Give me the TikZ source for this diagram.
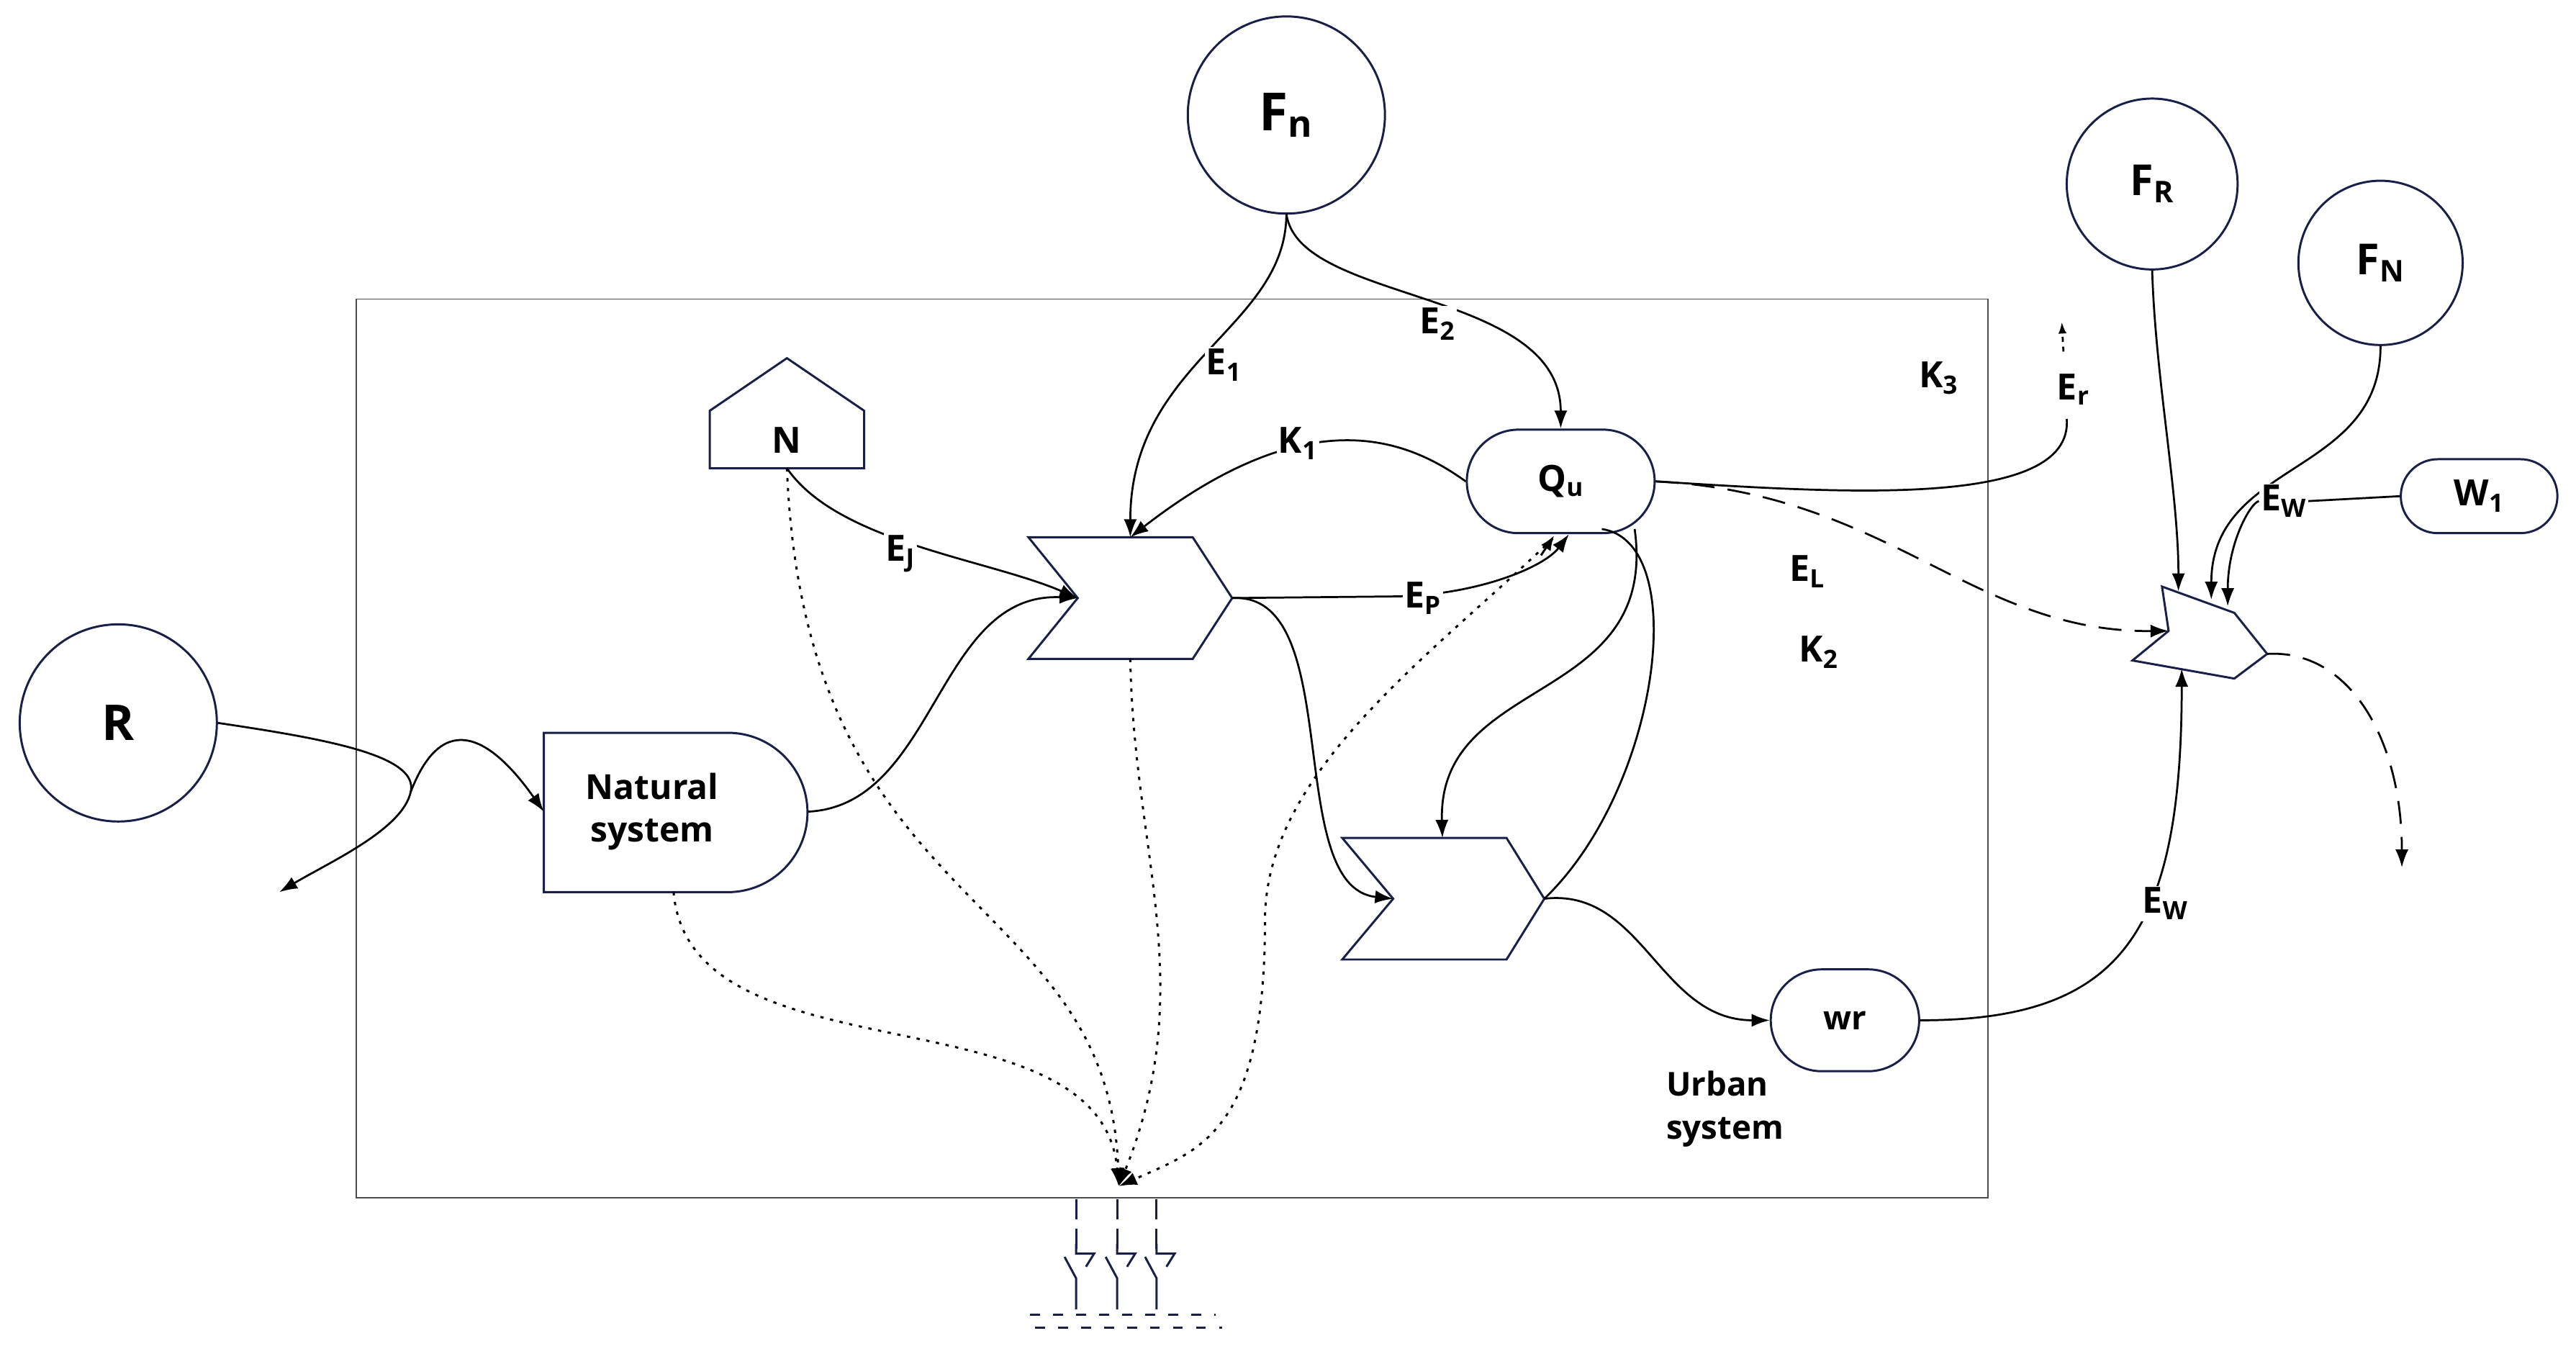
\documentclass[tikz,border=0pt]{standalone}
\usepackage{fontspec}
\setmainfont{Open Sans}
\usetikzlibrary{shapes.misc,arrows.meta}
\definecolor{nv}{HTML}{1A1F4A}
\begin{document}
\begin{tikzpicture}[x=1pt,y=-1pt,
  sh/.style={draw=nv,line width=1.3pt},
  ln/.style={line width=1.2pt,black},
  ar/.style={ln,-{Latex[length=11pt,width=8pt]}},
  lab/.style={font=\fontsize{22}{24}\selectfont\bfseries,inner sep=1pt,fill=white},
  circ/.style={circle,draw=nv,line width=1.3pt,minimum size=#1},
  stad/.style={rounded rectangle,draw=nv,line width=1.3pt,font=\fontsize{22}{24}\selectfont\bfseries},
  dot/.style={ln,line width=1.3pt,dash pattern=on 2pt off 4pt,-{Latex[length=11pt,width=8pt]}},
  dsh/.style={ln,dash pattern=on 14pt off 8pt}]
\useasboundingbox (0,0) rectangle (1568,827);
\draw[line width=0.8pt,black!70] (217,182) rectangle (1210,729);
% circles
\node[circ=120pt,font=\fontsize{32}{34}\selectfont\bfseries] (Fn) at (783,70) {F\textsubscript{n}};
\node[circ=120pt,font=\fontsize{30}{32}\selectfont\bfseries] (R) at (72,440) {R};
\node[circ=104pt,font=\fontsize{26}{28}\selectfont\bfseries] (FR) at (1310,112) {F\textsubscript{R}};
\node[circ=100pt,font=\fontsize{26}{28}\selectfont\bfseries] (FN) at (1449,160) {F\textsubscript{N}};
% N house
\draw[sh] (432,285) -- (432,250) -- (479,218) -- (526,250) -- (526,285) -- cycle;
\node[font=\fontsize{22}{24}\selectfont\bfseries] (N) at (479,268) {N};
\coordinate (Nb) at (479,285);
% natural system
\draw[sh] (331,446) -- (443,446) arc[start angle=-90,end angle=90,radius=48.5] -- (331,543) -- cycle;
\node[font=\fontsize{21}{26}\selectfont\bfseries,align=center] (NS) at (397,494) {Natural\\system};
\coordinate (NSr) at (492,494); \coordinate (NSb) at (410,543); \coordinate (NSl) at (331,494);
% interactions
\draw[sh] (626,327) -- (726,327) -- (750,364) -- (726,401) -- (626,401) -- (656,364) -- cycle;
\coordinate (I1t) at (688,327); \coordinate (I1n) at (656,364); \coordinate (I1r) at (750,364); \coordinate (I1b) at (688,401);
\draw[sh] (817,510) -- (917,510) -- (940,547) -- (917,584) -- (817,584) -- (848,547) -- cycle;
\coordinate (I2t) at (878,510); \coordinate (I2n) at (848,547); \coordinate (I2r) at (940,547);
\draw[sh] (1316,357) -- (1360,373) -- (1380,398) -- (1360,413) -- (1298,402) -- (1320,384) -- cycle;
\coordinate (I3n) at (1320,384); \coordinate (I3r) at (1380,398); \coordinate (I3b) at (1328,407);
% stadiums
\node[stad,minimum width=121pt,minimum height=63pt] (Qu) at (950,293) {Q\textsubscript{u}};
\node[stad,minimum width=97pt,minimum height=62pt,font=\fontsize{20}{22}\selectfont\bfseries] (Wr) at (1123,621) {wr};
\node[stad,minimum width=102pt,minimum height=45pt] (W1) at (1509,302) {W\textsubscript{1}};
% R source
\coordinate (Rs) at (250,482);
\coordinate (Rout) at (170,543);
\draw[ln] (R.east) ++(0,0) .. controls (200,450) and (255,460) .. (Rs);
\draw[ar] (Rs) .. controls (270,430) and (300,450) .. (NSl);
\draw[ar] (Rs) .. controls (245,505) and (200,525) .. (Rout);
% connectors
\coordinate (Fnb) at (783,130);
\draw[ar] (Fnb) .. controls (783,200) and (688,220) .. (I1t);
\draw[ar] (Fnb) .. controls (790,185) and (950,175) .. (Qu.north);
\draw[ar] (Qu.west) .. controls (860,270) and (800,240) .. (I1t);
\draw[ar] (Nb) .. controls (510,330) and (600,340) .. (I1n);
\draw[ar] (NSr) .. controls (570,490) and (570,360) .. (I1n);
\draw[ar] (I1r) -- (850,363) .. controls (900,362) and (940,345) .. ([xshift=5pt]Qu.south);
\draw[ar] (I1r) .. controls (820,360) and (780,540) .. (I2n);
\draw[ar] (995,322) .. controls (1010,430) and (875,410) .. (I2t);
\draw[ln] (I2r) .. controls (1010,480) and (1030,330) .. (975,322);
\draw[ar] (I2r) .. controls (1000,540) and (1010,621) .. (Wr.west);
\draw[ar] (Wr.east) .. controls (1290,621) and (1328,570) .. (I3b);
\coordinate (Ere) at (1258,255);
\draw[ln] (Qu.east) .. controls (1120,300) and (1262,310) .. (Ere);
\draw[ln,dashed,-{Latex[length=7pt,width=5pt]}] (1256,214) -- (1255,196);
\draw[dsh,-{Latex[length=11pt,width=8pt]}] (Qu.east) .. controls (1150,300) and (1200,385) .. (I3n);
\coordinate (out) at (1462,528);
\draw[dsh,-{Latex[length=11pt,width=8pt]}] (I3r) .. controls (1430,395) and (1462,450) .. (out);
\draw[ar] (FR.south) .. controls (1312,230) and (1326,300) .. (1326,360);
\draw[ar] (FN.south) .. controls (1449,290) and (1346,280) .. (1346,365);
% labels
\node[lab] (E1) at (745,222) {E\textsubscript{1}};
\node[lab] (E2) at (875,197) {E\textsubscript{2}};
\node[lab] (K1) at (790,270) {K\textsubscript{1}};
\node[lab] (EJ) at (548,337) {E\textsubscript{J}};
\node[lab] (EP) at (866,364) {E\textsubscript{P}};
\node[lab] (K3) at (1180,230) {K\textsubscript{3}};
\node[lab,fill=none] (Er) at (1262,237) {E\textsubscript{r}};
\node[lab,fill=none] (EL) at (1100,348) {E\textsubscript{L}};
\node[lab,fill=none] (K2) at (1107,397) {K\textsubscript{2}};
\node[lab] (EW1) at (1390,305) {E\textsubscript{W}};
\node[lab] (EW2) at (1318,550) {E\textsubscript{W}};
\node[font=\fontsize{20}{26}\selectfont\bfseries,align=left] (US) at (1050,675) {Urban\\system};
\draw[ar] (EW1.west) .. controls (1370,306) and (1356,330) .. (1356,369);
\draw[ln] (EW1.east) -- (W1.west);
% dotted flows to sink
\coordinate (sink) at (681,722);
\draw[dot] (Nb) .. controls (490,560) and (675,540) .. (sink);
\draw[dot] (NSb) .. controls (420,660) and (670,600) .. (sink);
\draw[dot] (I1b) .. controls (690,520) and (730,600) .. (sink);
\draw[dot] (945,328) .. controls (870,400) and (770,470) .. (770,560) .. controls (770,690) and (730,700) .. (sink);
\draw[line width=1.3pt,-{Latex[length=9pt,width=7pt]}] (938,338) -- (946,326);
% heat sink
\foreach \x in {655,680,704}{
  \draw[nv,line width=1.3pt,dash pattern=on 12pt off 6pt] (\x,730) -- (\x,760);
  \draw[nv,line width=1.3pt] (\x,757) -- (\x,763) -- (\x+11,763) -- (\x+6,771);
  \draw[nv,line width=1.3pt] (\x-7,765) -- (\x,778) -- (\x,797);
}
\draw[nv,line width=1.3pt,dash pattern=on 6pt off 8pt] (627,800) -- (740,800);
\draw[nv,line width=1.3pt,dash pattern=on 6pt off 8pt] (630,808) -- (744,808);
\end{tikzpicture}
\end{document}
